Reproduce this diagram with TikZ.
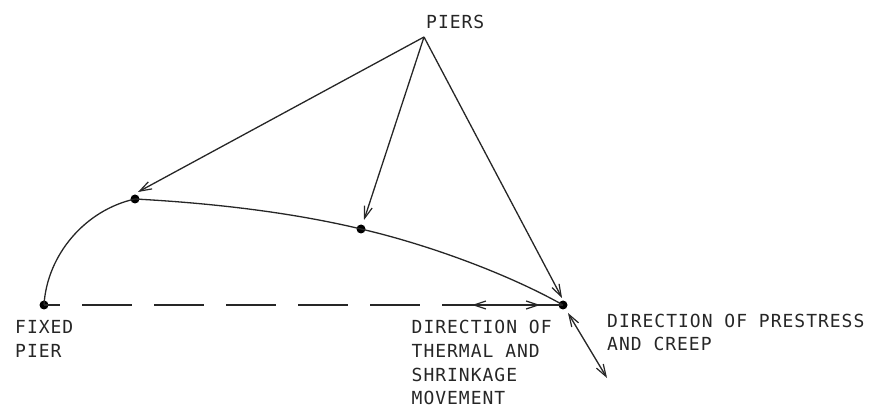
\documentclass[tikz,border=0pt]{standalone}
\usepackage{fontspec}
\setmonofont[LetterSpace=5.5]{DejaVu Sans Mono}
\usetikzlibrary{arrows.meta}
\tikzset{
  pierdot/.style={circle,fill=black,inner sep=0pt,minimum size=9pt},
  lbl/.style={font=\ttfamily\fontsize{18}{24}\selectfont,anchor=base west,inner sep=0pt,align=left,text=black!85},
  line/.style={line width=1.3pt,black!85},
  pointer/.style={line,-{Straight Barb[length=12pt,width=8pt,line width=1.2pt]}},
  both/.style={line,{Straight Barb[length=12pt,width=8pt,line width=1.2pt]}-{Straight Barb[length=12pt,width=8pt,line width=1.2pt]}}
}
\begin{document}
\begin{tikzpicture}[x=1pt,y=-1pt]
\useasboundingbox (0,0) rectangle (871,406);
\node[pierdot] (a) at (44,305) {};
\node[pierdot] (b) at (135,199) {};
\node[pierdot] (c) at (361,229) {};
\node[pierdot] (d) at (563,305) {};
\coordinate (apex) at (424,37);
\coordinate (tb) at (138,192);
\coordinate (tc) at (364,220);
\coordinate (td) at (562,298);
\coordinate (hl) at (472,305);
\coordinate (hr) at (540,305);
\coordinate (pl) at (568,313);
\coordinate (pr) at (607,378);
\draw[line] (a.center) .. controls (47,255) and (85,210) .. (b.center)
  .. controls (210,203) and (290,212) .. (c.center)
  .. controls (430,245) and (510,275) .. (d.center);
\draw[line,dash pattern=on 50pt off 22pt,dash phase=34pt] (a.center) -- (d.center);
\draw[pointer] (apex) -- (tb);
\draw[pointer] (apex) -- (tc);
\draw[pointer] (apex) -- (td);
\draw[both] (hl) -- (hr);
\draw[both] (pl) -- (pr);
\node[lbl] (piers) at (426,28.5) {PIERS};
\node[lbl] (fixed) at (15,333.5) {FIXED};
\node[lbl] (pier) at (15,357.5) {PIER};
\node[lbl] (t1) at (411.5,333.5) {DIRECTION OF};
\node[lbl] (t2) at (411.5,357.5) {THERMAL AND};
\node[lbl] (t3) at (411.5,381.5) {SHRINKAGE};
\node[lbl] (t4) at (411.5,404.5) {MOVEMENT};
\node[lbl] (p1) at (607,327) {DIRECTION OF PRESTRESS};
\node[lbl] (p2) at (607,351) {AND CREEP};
\end{tikzpicture}
\end{document}
